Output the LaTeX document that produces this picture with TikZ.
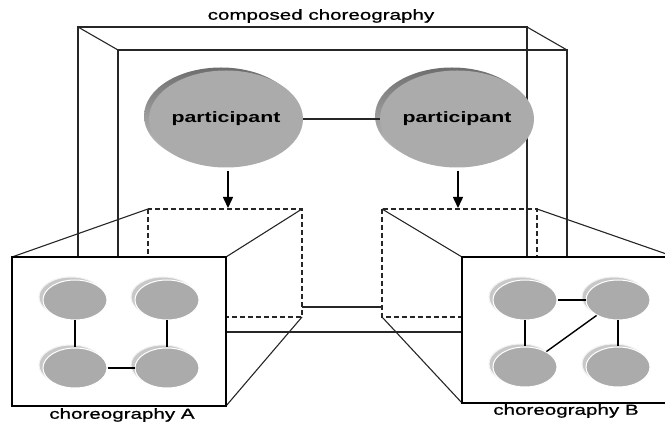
\documentclass[tikz,border=0pt]{standalone}
\usepackage{fontspec}
\setmainfont{Liberation Sans}[FakeStretch=1.42]
\newfontfamily\captionfont{Liberation Sans}[FakeStretch=1.42,RawFeature={embolden=0.9}]
\usetikzlibrary{shapes.geometric,arrows.meta,shadows}
\definecolor{discfill}{HTML}{ABABAB}
\definecolor{discback}{HTML}{C8C8C8}
\definecolor{discdark}{HTML}{6E6E6E}
\definecolor{linegray}{HTML}{262626}

\begin{document}
\begin{tikzpicture}[%
    x=1pt,
    y=-1pt,
    frame/.style={
      draw=linegray,
      line width=1.1pt
    },
    hidden/.style={
      draw=linegray,
      line width=1.6pt,
      dash pattern=on 5pt off 3pt
    },
    front/.style={
      draw=black,
      fill=white,
      line width=2.8pt
    },
    participant/.style={
      ellipse,
      fill=discfill,
      inner sep=0pt,
      minimum width=152pt,
      minimum height=97pt,
      font=\fontsize{15}{18}\selectfont\bfseries,
      general shadow={
        top color=discdark,
        bottom color=discback,
        shadow xshift=-5pt,
        shadow yshift=3pt
      }
    },
    role/.style={
      ellipse,
      fill=discfill,
      draw=white,
      line width=1pt,
      inner sep=0pt,
      minimum width=64pt,
      minimum height=40pt,
      general shadow={
        fill=discback,
        draw=white!90!gray,
        shadow xshift=-4pt,
        shadow yshift=3pt
      }
    },
    link/.style={
      draw=black,
      line width=1.4pt
    },
    arrow/.style={
      draw=black,
      line width=1.5pt,
      -{Triangle[length=11pt,width=10pt]},
      shorten <=3pt
    },
    caption/.style={
      font=\captionfont\fontsize{14.5}{17}\selectfont
    }
  ]
    \useasboundingbox (0,0) rectangle (665,427);

    \draw[frame] (78,257) -- (78,27) -- (527,27) -- (527,257);
    \draw[frame] (118,257) -- (118,50) -- (567,50) -- (567,257);
    \draw[frame] (78,27) -- (118,50);
    \draw[frame] (527,27) -- (567,50);
    \draw[frame] (302,307) -- (382,307);
    \draw[frame] (226,332) -- (462,332);

    \draw[hidden] (148,209) rectangle (302,317);
    \draw[hidden] (382,209) rectangle (537,317);
    \draw[frame] (12,257) -- (148,209);
    \draw[frame] (226,257) -- (302,209);
    \draw[frame] (226,406) -- (302,317);
    \draw[frame] (462,257) -- (382,209);
    \draw[frame] (675,257) -- (537,209);
    \draw[frame] (462,403) -- (382,317);
    \draw[front] (12,257) rectangle (226,406);
    \draw[front] (462,257) rectangle (680,403);

    \foreach \name/\x/\y in {a1/75/300, a2/167/300, a3/75/368, a4/167/368,
                             b1/525/300, b2/618/300, b3/525/367, b4/618/367}
      \node[role] (\name) at (\x,\y) {};
    \draw[link] (a1) -- (a3);
    \draw[link] (a2) -- (a4);
    \draw[link] (a3) -- (a4);
    \draw[link] (b1) -- (b2);
    \draw[link] (b1) -- (b3);
    \draw[link] (b2) -- (b4);
    \draw[link] (b3) -- (b2);

    \node[participant] (pL) at (226,119) {participant};
    \node[participant] (pR) at (457,119) {participant};
    \draw[frame] (pL) -- (pR);

    \coordinate (tipA) at (228,208);
    \coordinate (tipB) at (458,208);
    \draw[arrow] (tipA |- pL.south) -- (tipA);
    \draw[arrow] (tipB |- pR.south) -- (tipB);

    \node[caption] (title) at (321,16) {composed choreography};
    \node[caption] (capA) at (122,415) {choreography A};
    \node[caption] (capB) at (566,411) {choreography B};
  \end{tikzpicture}
\end{document}
